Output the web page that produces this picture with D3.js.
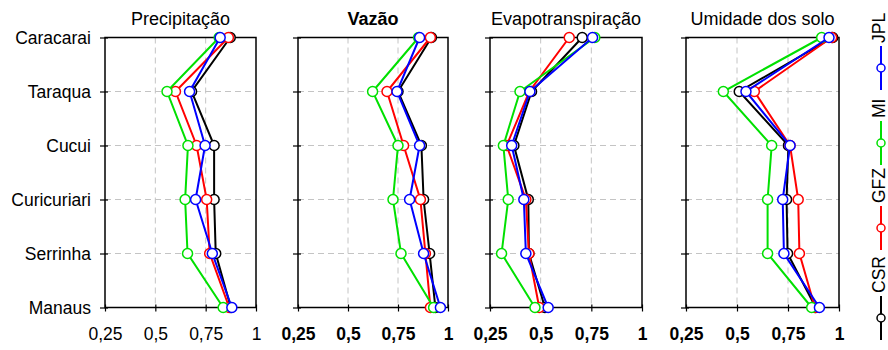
<!DOCTYPE html>
<html>
<head>
<meta charset="utf-8">
<script src="https://cdn.jsdelivr.net/npm/d3@7"></script>
<style>
  body { margin: 0; background: #fff; }
  svg { display: block; font-family: "Liberation Sans", Arial, sans-serif; }
</style>
</head>
<body>
<svg id="chart" width="888" height="350"></svg>
<script>
const categories = ["Caracarai", "Taraqua", "Cucui", "Curicuriari", "Serrinha", "Manaus"];
const seriesNames = ["CSR", "GFZ", "MI", "JPL"];
const seriesColors = ["#000000", "#ff0000", "#00e000", "#0000ff"];
const xTicks = [0.25, 0.5, 0.75, 1];
const xTickLabels = ["0,25", "0,5", "0,75", "1"];
const panelTitles = ["Precipitação", "Vazão", "Evapotranspiração", "Umidade dos solo"];

// one row per series, in the order of seriesNames; values follow categories
const precipitacao = [
    [0.872, 0.680, 0.792, 0.792, 0.800, 0.875],
    [0.863, 0.600, 0.705, 0.755, 0.770, 0.867],
    [0.817, 0.558, 0.662, 0.648, 0.660, 0.837],
    [0.822, 0.670, 0.747, 0.700, 0.783, 0.880]
];
const vazao = [
    [0.917, 0.750, 0.867, 0.878, 0.908, 0.937],
    [0.912, 0.695, 0.778, 0.862, 0.887, 0.912],
    [0.853, 0.623, 0.750, 0.725, 0.765, 0.928],
    [0.858, 0.745, 0.858, 0.808, 0.878, 0.962]
];
const evapotranspiracao = [
    [0.705, 0.455, 0.368, 0.439, 0.442, 0.521],
    [0.641, 0.444, 0.332, 0.427, 0.442, 0.493],
    [0.767, 0.398, 0.316, 0.340, 0.307, 0.472],
    [0.756, 0.447, 0.357, 0.417, 0.427, 0.537]
];
const umidade = [
    [0.969, 0.511, 0.752, 0.743, 0.748, 0.886],
    [0.964, 0.585, 0.760, 0.800, 0.806, 0.882],
    [0.915, 0.433, 0.670, 0.650, 0.650, 0.866],
    [0.951, 0.544, 0.760, 0.724, 0.730, 0.904]
];
const panels = [precipitacao, vazao, evapotranspiracao, umidade];

const svg = d3.select("#chart");
const plotTop = 37.5, plotBottom = 307.5;
const panelX = [105, 298, 490, 686];
const panelW = [151, 150, 152, 153];
const titleWeight = ["normal", "bold", "normal", "normal"];
const labelWeight = ["normal", "bold", "bold", "bold"];

const y = d3.scalePoint().domain(categories).range([plotTop, plotBottom]);

panels.forEach((data, i) => {
    const x = d3.scaleLinear().domain([0.25, 1]).range([panelX[i], panelX[i] + panelW[i]]);
    const g = svg.append("g");

    // dashed grid
    g.selectAll(".vgrid").data([0.5, 0.75]).join("line")
        .attr("x1", d => x(d)).attr("x2", d => x(d))
        .attr("y1", plotTop).attr("y2", plotBottom)
        .attr("stroke", "#c4c4c4").attr("stroke-width", 1)
        .attr("stroke-dasharray", "6,4");
    g.selectAll(".hgrid").data(categories.slice(1, -1)).join("line")
        .attr("x1", x(0.25)).attr("x2", x(1))
        .attr("y1", d => y(d)).attr("y2", d => y(d))
        .attr("stroke", "#c4c4c4").attr("stroke-width", 1)
        .attr("stroke-dasharray", "6,4");

    // frame
    g.append("rect")
        .attr("x", x(0.25)).attr("y", plotTop)
        .attr("width", x(1) - x(0.25)).attr("height", plotBottom - plotTop)
        .attr("fill", "none").attr("stroke", "#000").attr("stroke-width", 1.5);

    // x axis
    const xa = g.append("g")
        .attr("transform", `translate(0,${plotBottom})`)
        .call(d3.axisBottom(x).tickValues(xTicks)
            .tickFormat((d, j) => xTickLabels[j]).tickSizeOuter(0));
    xa.select(".domain").remove();
    xa.selectAll(".tick line").attr("y1", -3).attr("y2", 4)
        .attr("stroke", "#000").attr("stroke-width", 1.2);
    xa.selectAll(".tick text")
        .attr("y", 20).attr("dy", "0.71em")
        .attr("fill", "#000")
        .style("font-size", "17.5px")
        .style("font-weight", labelWeight[i])
        .style("font-family", "'Liberation Sans', Arial, sans-serif");

    // y axis
    const ya = g.append("g")
        .attr("transform", `translate(${x(0.25)},0)`)
        .call(d3.axisLeft(y).tickSizeOuter(0).tickFormat(i === 0 ? null : ""));
    ya.select(".domain").remove();
    ya.selectAll(".tick line").attr("x1", 3).attr("x2", -5)
        .attr("stroke", "#000").attr("stroke-width", 1.2);
    ya.selectAll(".tick text")
        .attr("x", -14)
        .attr("fill", "#000")
        .style("font-size", "17.5px")
        .style("font-family", "'Liberation Sans', Arial, sans-serif");

    // series: line then points, CSR first, JPL last
    data.forEach((vals, s) => {
        const pts = vals.map((v, k) => [x(v), y(categories[k])]);
        g.append("path")
            .attr("d", d3.line()(pts))
            .attr("fill", "none")
            .attr("stroke", seriesColors[s])
            .attr("stroke-width", 2);
        g.selectAll(".pt" + s).data(pts).join("circle")
            .attr("cx", d => d[0]).attr("cy", d => d[1]).attr("r", 5)
            .attr("fill", "#fff")
            .attr("stroke", seriesColors[s]).attr("stroke-width", 1.5);
    });

    // title
    g.append("text")
        .attr("x", (x(0.25) + x(1)) / 2)
        .attr("y", 25)
        .attr("text-anchor", "middle")
        .style("font-size", "18px")
        .style("font-weight", titleWeight[i])
        .text(panelTitles[i]);
});

// legend, rotated, read bottom to top
const legendStart = [340, 250, 165, 90];
seriesNames.forEach((name, s) => {
    const u = legendStart[s];
    svg.append("line")
        .attr("x1", 881).attr("x2", 881)
        .attr("y1", u).attr("y2", u - 44)
        .attr("stroke", seriesColors[s]).attr("stroke-width", 2);
    svg.append("circle")
        .attr("cx", 881).attr("cy", u - 22).attr("r", 4)
        .attr("fill", "#fff").attr("stroke", seriesColors[s]).attr("stroke-width", 1.5);
    svg.append("text")
        .attr("transform", `translate(879,${u - 47}) rotate(-90)`)
        .attr("dominant-baseline", "central")
        .style("font-size", "17.5px")
        .text(name);
});
</script>
</body>
</html>
